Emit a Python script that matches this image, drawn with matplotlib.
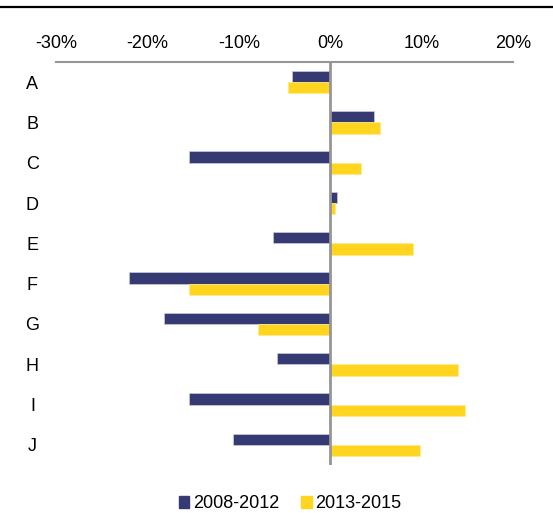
import numpy as np
import matplotlib
matplotlib.use("Agg")
import matplotlib.pyplot as plt
from matplotlib.lines import Line2D

plt.rcParams['font.family'] = ['Liberation Sans', 'DejaVu Sans']

# data (percent change)
categories = ["A", "B", "C", "D", "E", "F", "G", "H", "I", "J"]
p2008_2012 = [-4.2, 4.8, -15.5, 0.7, -6.3, -22.0, -18.2, -5.8, -15.4, -10.6]
p2013_2015 = [-4.6, 5.5, 3.4, 0.5, 9.1, -15.5, -7.9, 14.0, 14.7, 9.8]
xticks = [-30, -20, -10, 0, 10, 20]
series_names = ["2008-2012", "2013-2015"]

navy = "#353B72"
yellow = "#FFD520"
grey = "#969696"

fig = plt.figure(figsize=(5.53, 5.13), dpi=100)
ax = fig.add_axes([56/553, 48/513, 457/553, 403/513])

y = np.arange(len(categories))
h = 0.28
ax.barh(y - h/2, p2008_2012, height=h, color=navy, edgecolor="#c8cbe0", linewidth=0.5, zorder=2)
ax.barh(y + h/2, p2013_2015, height=h, color=yellow, edgecolor="#ffe98a", linewidth=0.5, zorder=2)

ax.set_xlim(-30, 20)
ax.set_ylim(9.5, -0.5)
ax.axvline(0, color=grey, lw=2, zorder=3)

for s in ["left", "right", "bottom"]:
    ax.spines[s].set_visible(False)
ax.spines["top"].set_color(grey)
ax.spines["top"].set_linewidth(1.5)

ax.xaxis.tick_top()
ax.set_xticks(xticks)
ax.set_xticklabels([f"{t}%" for t in xticks], fontsize=13)
ax.tick_params(axis="x", length=0, pad=7)

ax.set_yticks(y)
ax.set_yticklabels(categories, fontsize=13, ha="center")
ax.tick_params(axis="y", length=0, pad=17)

# dark rule at the very top of the image
fig.add_artist(Line2D([0, 1], [1 - 7/513, 1 - 7/513], color="black", lw=1.6))

handles = [plt.Rectangle((0, 0), 1, 1, color=navy), plt.Rectangle((0, 0), 1, 1, color=yellow)]
fig.legend(handles, series_names, loc="center", bbox_to_anchor=(290/553, 9/513),
           ncol=2, frameon=False, fontsize=13, handlelength=0.6, handleheight=0.6,
           handletextpad=0.2, columnspacing=1.2, borderpad=0)

fig.savefig("out.png", dpi=100)
